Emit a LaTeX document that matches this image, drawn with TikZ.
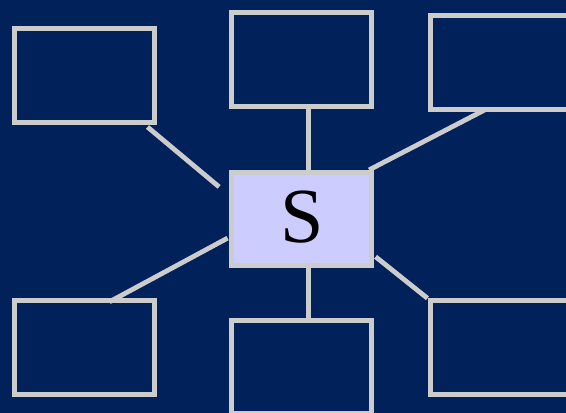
\documentclass[tikz,border=0pt]{standalone}
\usepackage{fontspec}
\setmainfont{Liberation Serif}
\usetikzlibrary{calc}
\definecolor{navy}{RGB}{0,33,89}
\definecolor{edgegray}{RGB}{204,204,204}
\definecolor{lavender}{RGB}{204,204,255}
\begin{document}
\begin{tikzpicture}[x=1pt,y=-1pt,
  box/.style={draw=edgegray,line width=5pt,rectangle,inner sep=0pt,minimum width=140pt,minimum height=93.4pt},
  link/.style={draw=edgegray,line width=4.8pt}]
\clip (0,0) rectangle (566,413);
\fill[navy] (0,0) rectangle (566,413);
\node[box] (tl) at (84,75.3) {};
\node[box] (tc) at (301.6,59.5) {};
\node[box] (tr) at (500,62.3) {};
\node[box,fill=lavender] (c) at (301.6,219.1) {};
\node (s) at (302.3,217) {\fontsize{78}{78}\selectfont S};
\node[box] (bl) at (84,347.5) {};
\node[box] (bc) at (301.6,366.8) {};
\node[box] (br) at (500,347.5) {};
\draw[link] ($(tl.south east)+(-9,2.5)$) -- ($(c.north west)+(-10,17)$);
\draw[link] ($(tc.south)+(7,0)$) -- ($(c.north)+(7,0)$);
\draw[link] ($(tr.south west)+(59,-2.5)$) -- ($(c.north east)+(-5,0)$);
\draw[link] ($(c.west)+(-1.5,19)$) -- ($(bl.north west)+(98,3.5)$);
\draw[link] ($(c.south)+(7,0)$) -- ($(bc.north)+(7,0)$);
\draw[link] ($(c.south east)+(1.5,-11.5)$) -- ($(br.north west)+(0,0)$);
\end{tikzpicture}
\end{document}
